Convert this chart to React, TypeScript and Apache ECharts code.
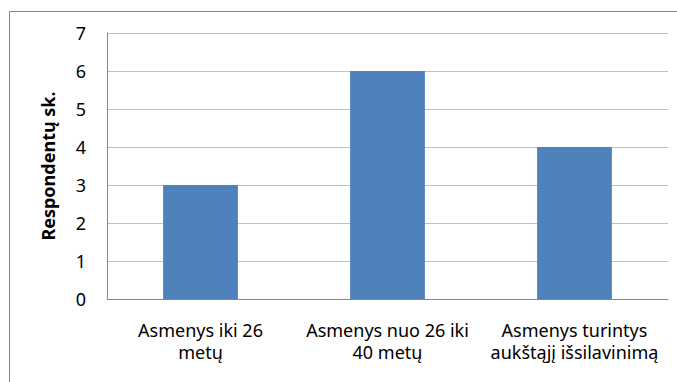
import React, { useEffect, useRef } from "react";
import * as echarts from "echarts";

const categories = ["Asmenys iki 26 metų", "Asmenys nuo 26 iki 40 metų", "Asmenys turintys aukštąjį išsilavinimą"];
const categoryLabels = ["Asmenys iki 26\nmetų", "Asmenys nuo 26 iki\n40 metų", "Asmenys turintys\naukštąjį išsilavinimą"];
const values = [3, 6, 4];
const yAxisName = "Respondentų sk.";

export default function App() {
  const ref = useRef<HTMLDivElement>(null);
  useEffect(() => {
    document.body.style.margin = "0";
    const chart = echarts.init(ref.current!, null, { renderer: "svg" });
    chart.setOption({
      animation: false,
      backgroundColor: "#ffffff",
      textStyle: { fontFamily: "Noto Sans" },
      graphic: [
        {
          type: "rect",
          shape: { x: 9.5, y: 11.5, width: 720, height: 420 },
          style: { fill: "none", stroke: "#868686", lineWidth: 1 },
          silent: true,
        },
      ],
      grid: { left: 107, right: 9, top: 33, bottom: 83 },
      xAxis: {
        type: "category",
        data: categories,
        axisLine: { lineStyle: { color: "#868686" } },
        axisTick: { show: false },
        axisLabel: {
          interval: 0,
          margin: 20,
          color: "#000",
          fontSize: 18,
          lineHeight: 22,
          fontFamily: "Noto Sans",
          formatter: (_v: string, i: number) => categoryLabels[i],
        },
      },
      yAxis: {
        type: "value",
        min: 0,
        max: 7,
        interval: 1,
        name: yAxisName,
        nameLocation: "middle",
        nameGap: 50,
        nameTextStyle: { fontWeight: "bold", fontSize: 18, color: "#000", fontFamily: "Noto Sans" },
        axisLine: { show: true, lineStyle: { color: "#868686" } },
        axisTick: { show: false },
        axisLabel: { color: "#000", fontSize: 18, margin: 21, fontFamily: "Noto Sans" },
        splitLine: { lineStyle: { color: "#c0c0c0" } },
      },
      series: [
        {
          type: "bar",
          data: values,
          barCategoryGap: "60%",
          itemStyle: { color: "#4F81BD" },
        },
      ],
    });
    return () => chart.dispose();
  }, []);
  return <div ref={ref} style={{ width: 677, height: 382 }} />;
}
